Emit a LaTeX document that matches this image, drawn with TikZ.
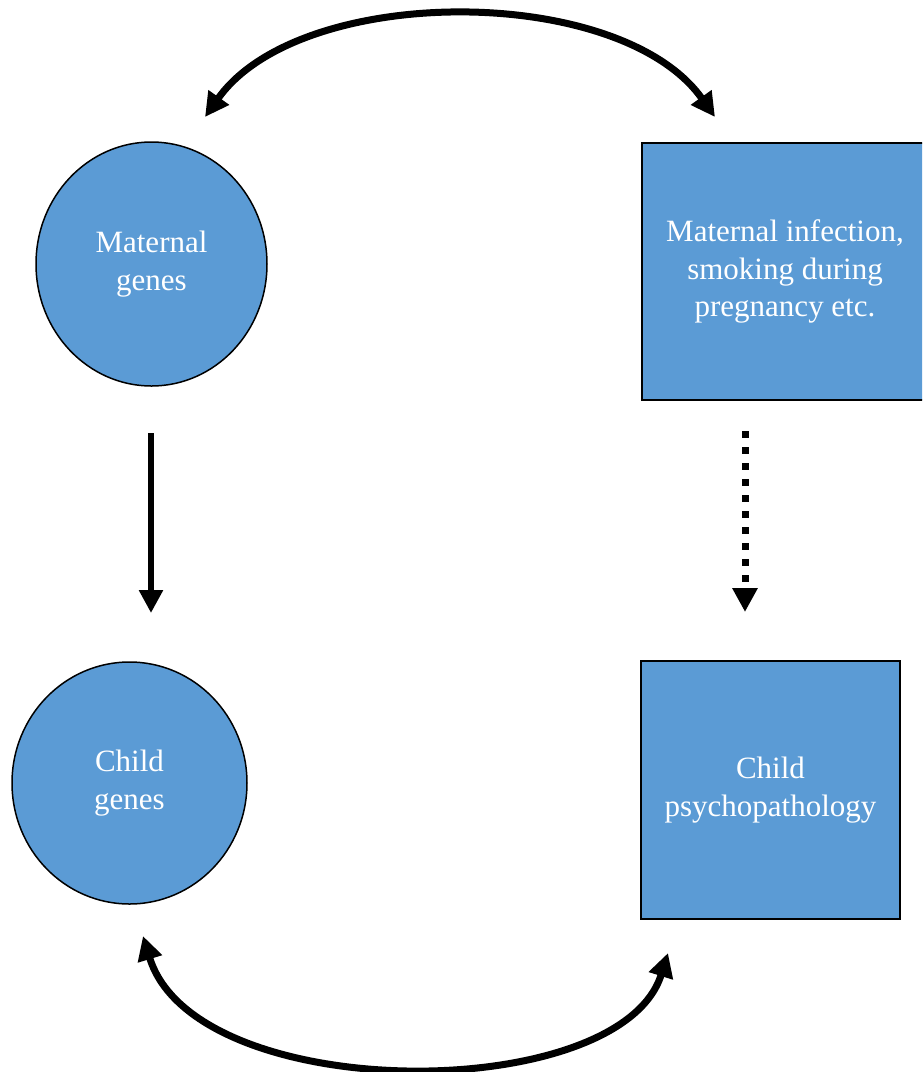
\documentclass[tikz,border=0pt]{standalone}
\usepackage{fontspec}
\setmainfont{Liberation Serif}
\usepackage{xcolor}
\usetikzlibrary{shapes.geometric, arrows.meta}

\definecolor{boxblue}{HTML}{5B9BD5}
\newcommand{\labelfont}{\fontsize{15.5}{18.75}\selectfont}

\tikzset{
  blob/.style={ellipse, draw, line width=0.75pt, fill=boxblue, inner sep=0pt,
    text=white, align=center, font=\labelfont},
  block/.style={rectangle, draw, line width=1pt, fill=boxblue, inner sep=0pt,
    text=white, align=center, font=\labelfont},
  link/.style={line width=2.8pt, -{Triangle[width=11.5pt, length=11.5pt]}},
  swing/.style={line width=3.5pt,
    {Triangle[width=12pt, length=12pt]}-{Triangle[width=12pt, length=12pt]}},
}

\begin{document}
\begin{tikzpicture}[x=0.5pt, y=-0.5pt]
  \useasboundingbox (0, 0) rectangle (922, 1072);
  \clip (0, 0) rectangle (922, 1072);

  % the four factors
  \node[blob, minimum width=115.5pt, minimum height=122pt]
    (mgenes) at (151.5, 264) {Maternal\\genes};
  \node[block, minimum width=143pt, minimum height=128.5pt]
    (env) at (785, 271.5) {Maternal infection,\\smoking during\\pregnancy etc.};
  \node[blob, minimum width=117.5pt, minimum height=121pt]
    (cgenes) at (129.5, 783) {Child\\genes};
  \node[block, minimum width=129.5pt, minimum height=129pt]
    (psych) at (770.5, 790) {Child\\psychopathology};

  % arrow ends
  \coordinate (gtop) at (151, 433);
  \coordinate (gbot) at (151, 613);
  \coordinate (etop) at (745, 431);
  \coordinate (ebot) at (745, 612);
  \coordinate (tl) at (205, 117);
  \coordinate (tr) at (715, 117);
  \coordinate (bl) at (143, 936);
  \coordinate (br) at (668, 953);

  \draw[link] (gtop) -- (gbot);
  \draw[link, line width=3.5pt, dash pattern=on 3.5pt off 4.5pt,
    -{Triangle[width=12pt, length=12pt]}] (etop) -- (ebot);

  \draw[swing] (tl) .. controls (300, -17) and (620, -17) .. (tr);
  \draw[swing] (bl) .. controls (195, 1106) and (620, 1106) .. (br);
\end{tikzpicture}
\end{document}
